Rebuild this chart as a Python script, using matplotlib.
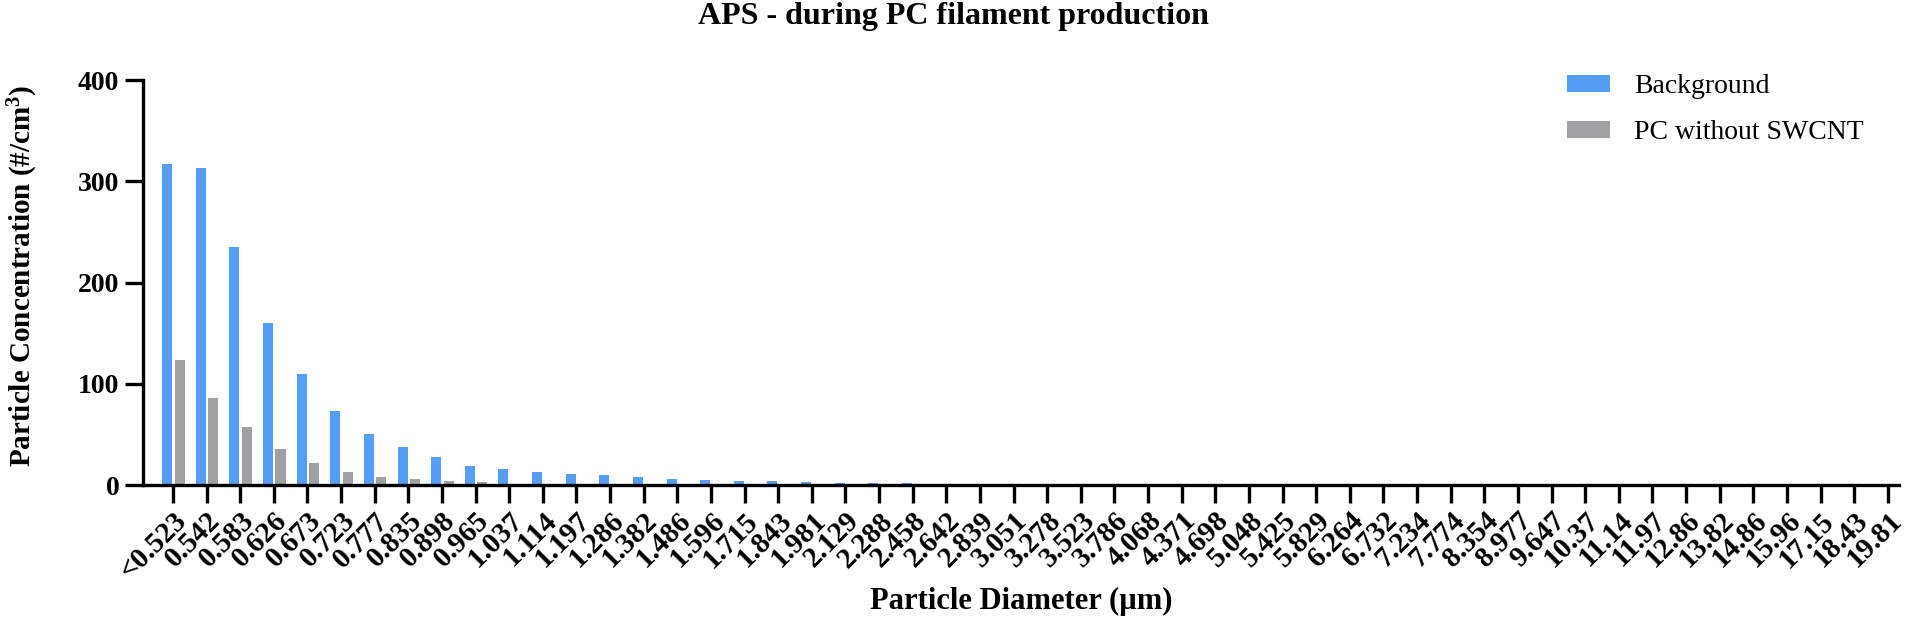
import matplotlib
matplotlib.use("Agg")
import matplotlib.pyplot as plt
import numpy as np

plt.rcParams['font.family'] = ['Liberation Serif', 'DejaVu Serif']
plt.rcParams['mathtext.fontset'] = 'custom'
plt.rcParams['mathtext.rm'] = 'Liberation Serif:bold'
plt.rcParams['mathtext.default'] = 'rm'

diameters = ["<0.523", "0.542", "0.583", "0.626", "0.673", "0.723", "0.777", "0.835",
             "0.898", "0.965", "1.037", "1.114", "1.197", "1.286", "1.382", "1.486",
             "1.596", "1.715", "1.843", "1.981", "2.129", "2.288", "2.458", "2.642",
             "2.839", "3.051", "3.278", "3.523", "3.786", "4.068", "4.371", "4.698",
             "5.048", "5.425", "5.829", "6.264", "6.732", "7.234", "7.774", "8.354",
             "8.977", "9.647", "10.37", "11.14", "11.97", "12.86", "13.82", "14.86",
             "15.96", "17.15", "18.43", "19.81"]

background = [316.8, 313.5, 235.0, 160.0, 110.0, 73.3, 50.8, 37.6, 27.7, 19.1,
              15.5, 13.2, 10.5, 9.5, 7.9, 6.2, 5.0, 4.0, 4.0, 3.0,
              2.3, 2.0, 1.5, 1.0, 0.5, 0.3, 0.2, 0.1, 0.1, 0.05,
              0.05, 0.0, 0.0, 0.0, 0.0, 0.0, 0.0, 0.0, 0.0, 0.0,
              0.0, 0.0, 0.0, 0.0, 0.0, 0.0, 0.0, 0.0, 0.0, 0.0, 0.0, 0.0]

pc_no_swcnt = [123.4, 86.1, 57.4, 35.3, 21.5, 12.9, 8.3, 5.9, 3.6, 2.6,
               1.2, 0.8, 0.5, 0.4, 0.3, 0.2, 0.1, 0.1, 0.05, 0.05,
               0.0, 0.0, 0.0, 0.0, 0.0, 0.0, 0.0, 0.0, 0.0, 0.0,
               0.0, 0.0, 0.0, 0.0, 0.0, 0.0, 0.0, 0.0, 0.0, 0.0,
               0.0, 0.0, 0.0, 0.0, 0.0, 0.0, 0.0, 0.0, 0.0, 0.0, 0.0, 0.0]

x = np.arange(len(diameters))
width = 0.3

fig = plt.figure(figsize=(19.06, 6.37), dpi=100)
ax = fig.add_axes([0.075, 0.2386, 0.9213, 0.6358])

ax.bar(x - 0.17, background, width, color='#559ef5', label='Background')
ax.bar(x + 0.20, pc_no_swcnt, width, color='#a0a0a5', label='PC without SWCNT')

ax.set_xlim(-0.89, len(diameters) - 1 + 0.33)
ax.set_ylim(0, 400)
ax.set_yticks([0, 100, 200, 300, 400])
ax.set_xticks(x)
ax.set_xticklabels(diameters, rotation=45, ha='right', va='top',
                   rotation_mode='anchor', fontsize=21, fontweight='bold')
for lbl in ax.get_yticklabels():
    lbl.set_fontsize(20)
    lbl.set_fontweight('bold')

for side in ['top', 'right']:
    ax.spines[side].set_visible(False)
for side in ['left', 'bottom']:
    ax.spines[side].set_linewidth(2.4)
ax.tick_params(axis='both', direction='out', length=13, width=2.4)
ax.tick_params(axis='x', pad=3)
ax.tick_params(axis='y', pad=4)

ax.set_ylabel('Particle Concentration (#/cm$^{3}$)', fontsize=21, fontweight='bold')
ax.yaxis.set_label_coords(0.012, 0.5675, transform=fig.transFigure)
ax.yaxis.label.set_va('center')
ax.set_xlabel('Particle Diameter (µm)', fontsize=22, fontweight='bold')
ax.xaxis.set_label_coords(0.536, 1 - 609 / 637, transform=fig.transFigure)
ax.xaxis.label.set_va('baseline')
fig.suptitle('APS - during PC filament production', fontsize=23, fontweight='bold', y=0.997)

ax.legend(loc='upper left', bbox_to_anchor=(0.815, 0.905), bbox_transform=fig.transFigure,
          frameon=False, fontsize=20, handlelength=1.55, handleheight=0.55,
          handletextpad=0.85, labelspacing=0.75, borderpad=0)

fig.savefig('out.png', dpi=100)
